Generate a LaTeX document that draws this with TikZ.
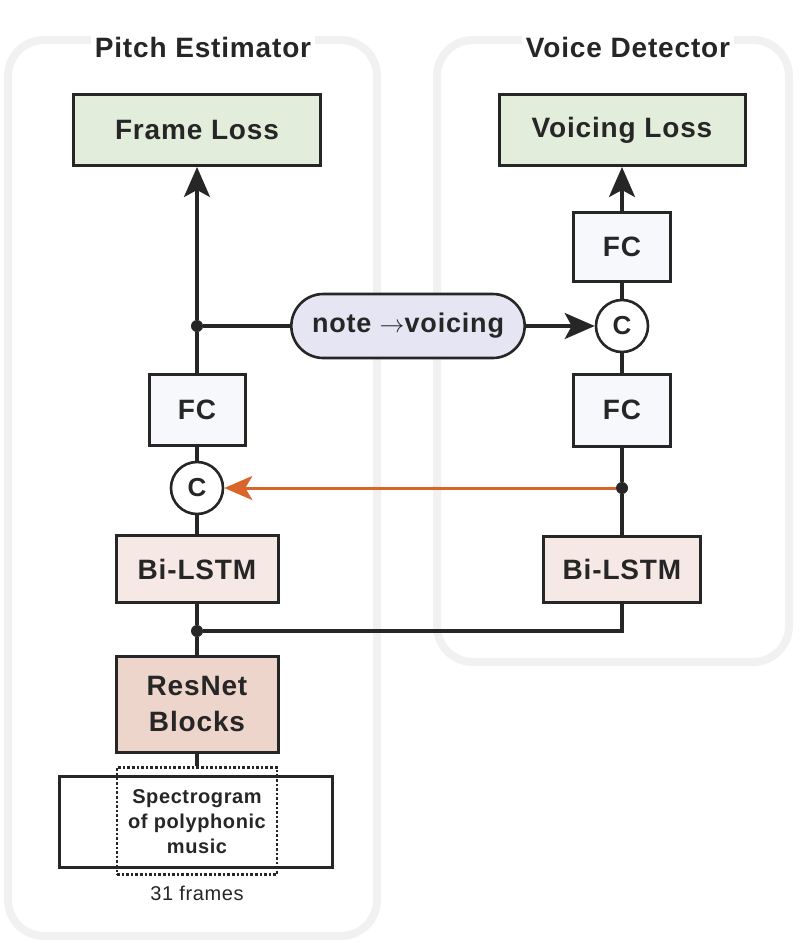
\documentclass[tikz,border=0pt]{standalone}
\usepackage{fontspec}
\setmainfont{Liberation Sans}
\usetikzlibrary{arrows.meta,shapes.misc}
\definecolor{lossgreen}{HTML}{E2EDDC}
\definecolor{lstmpink}{HTML}{F6E9E5}
\definecolor{respink}{HTML}{EED5CC}
\definecolor{fcfill}{HTML}{F7F8FB}
\definecolor{pillfill}{HTML}{E5E5F3}
\definecolor{ink}{HTML}{262626}
\definecolor{panelgray}{HTML}{F1F1F1}
\definecolor{orangeline}{HTML}{D9652A}
\newfontfamily\labfont[LetterSpace=3]{Liberation Sans}
\tikzset{
  panel/.style={draw=panelgray, line width=8pt, rounded corners=36pt, fill=white},
  blk/.style={draw=ink, line width=3pt, text=ink, font=\labfont\bfseries\fontsize{28}{32}\selectfont, align=center, inner sep=0pt},
  catnode/.style={circle, draw=ink, line width=2.6pt, fill=white, minimum size=52pt, inner sep=0pt, text=ink, font=\labfont\bfseries\fontsize{26}{30}\selectfont},
  conn/.style={draw=ink, line width=3.2pt},
  bigtip/.style={-{Stealth[length=30pt,width=26pt,inset=7pt]}},
  jdot/.style={circle, fill=ink, minimum size=12pt, inner sep=0pt},
  ttl/.style={text=ink, font=\labfont\bfseries\fontsize{28}{32}\selectfont},
  small/.style={text=ink, font=\labfont\fontsize{20}{25}\selectfont, align=center}
}
\begin{document}
\begin{tikzpicture}[x=1pt,y=-1pt]
\useasboundingbox (0,0) rectangle (800,943);
% panels
\draw[panel] (8,40) rectangle (377,936);
\draw[panel] (437,40) rectangle (789,662);
\node[ttl, fill=white, inner sep=4pt] (t1) at (203,47) {Pitch Estimator};
\node[ttl, fill=white, inner sep=4pt] (t2) at (628,47) {Voice Detector};
% left column
\node[blk, fill=lossgreen, minimum width=247pt, minimum height=71pt] (floss) at (197,130) {Frame Loss};
\node[blk, fill=fcfill, minimum width=96pt, minimum height=71pt] (lfc) at (197,410) {FC};
\node[catnode] (lc) at (197,488) {C};
\node[blk, fill=lstmpink, minimum width=162pt, minimum height=67pt] (llstm) at (197,569) {Bi-LSTM};
\node[blk, fill=respink, minimum width=162pt, minimum height=96pt, font=\labfont\bfseries\fontsize{28}{36}\selectfont] (res) at (197,704) {ResNet\\Blocks};
\node[draw=ink, line width=2.4pt, fill=white, minimum width=273pt, minimum height=91pt, inner sep=0pt] (spec) at (196,822) {};
\node[draw=ink, line width=2.6pt, dotted, minimum width=160pt, minimum height=107pt, inner sep=0pt] (win) at (197,821) {};
\node[small, font=\labfont\bfseries\fontsize{20}{25}\selectfont] (spect) at (197,822) {Spectrogram\\of polyphonic\\music};
\node[small] (frames) at (197,893) {31 frames};
% right column
\node[blk, fill=lossgreen, minimum width=246pt, minimum height=71pt] (vloss) at (622,130) {Voicing Loss};
\node[blk, fill=fcfill, minimum width=97pt, minimum height=69pt] (rfc2) at (622,247) {FC};
\node[catnode] (rc) at (622,326) {C};
\node[blk, fill=fcfill, minimum width=97pt, minimum height=72pt] (rfc1) at (622,410) {FC};
\node[blk, fill=lstmpink, minimum width=157pt, minimum height=66pt] (rlstm) at (622,569) {Bi-LSTM};
% pill
\node[draw=ink, line width=2.6pt, fill=pillfill, rounded rectangle, minimum width=240pt, minimum height=64pt, text=ink, font=\labfont\bfseries\fontsize{27}{30}\selectfont] (pill) at (408,326) {note {\fontsize{24}{24}\selectfont$\rightarrow$}voicing};
% junctions
\node[jdot] (j1) at (197,326) {};
\node[jdot] (j2) at (197,631) {};
\node[jdot] (j3) at (622,488) {};
\coordinate (k1) at (622,631);
% connectors
\draw[conn, bigtip] (j1) -- (floss.south);
\draw[conn] (lfc.north) -- (j1);
\draw[conn] (j1) -- (pill.west);
\draw[conn, bigtip] (pill.east) -- (rc.west);
\draw[conn] (lc.north) -- (lfc.south);
\draw[conn] (llstm.north) -- (lc.south);
\draw[conn] (llstm.south) -- (j2) -- (res.north);
\draw[conn] (j2) -- (k1) -- (rlstm.south);
\draw[conn] (res.south) -- (win.north);
\draw[conn] (rlstm.north) -- (j3) -- (rfc1.south);
\draw[conn] (rfc1.north) -- (rc.south);
\draw[conn] (rc.north) -- (rfc2.south);
\draw[conn, bigtip] (rfc2.north) -- (vloss.south);
\draw[draw=orangeline, line width=3pt, -{Stealth[length=28pt,width=24pt,inset=7pt]}] (j3) -- (lc.east);
\end{tikzpicture}
\end{document}
